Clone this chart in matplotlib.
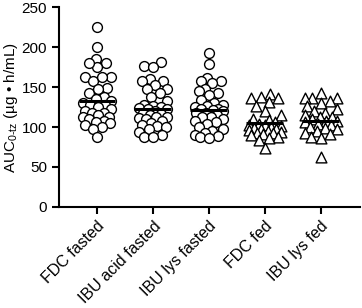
import numpy as np
import matplotlib.pyplot as plt

groups = ['FDC fasted', 'IBU acid fasted', 'IBU lys fasted', 'FDC fed', 'IBU lys fed']

fdc_fasted = [225, 200, 185, 180, 175, 180, 162, 158, 162, 162, 149, 143, 148, 138, 135,
              133, 130, 128, 127, 125, 122, 120, 118, 118, 115, 113, 112, 110, 108, 106,
              105, 103, 100, 97, 87]
ibu_acid_fasted = [181, 176, 175, 160, 158, 157, 152, 148, 147, 142, 137, 132, 128, 126,
                   125, 124, 123, 122, 120, 118, 116, 115, 113, 112, 111, 110, 108, 105,
                   103, 101, 100, 97, 94, 90, 88, 87]
ibu_lys_fasted = [193, 179, 161, 158, 157, 155, 147, 145, 143, 140, 134, 130, 128, 126,
                  125, 123, 122, 121, 120, 118, 117, 115, 113, 112, 110, 108, 106, 104,
                  100, 98, 95, 92, 90, 89, 88, 86]
fdc_fed = [141, 138, 136, 136, 131, 126, 120, 115, 110, 109, 106, 104, 103, 102, 101,
           100, 99, 98, 97, 96, 95, 94, 93, 92, 91, 90, 88, 86, 84, 74]
ibu_lys_fed = [142, 136, 136, 136, 132, 130, 126, 122, 120, 118, 115, 113, 112, 110, 108,
               107, 106, 104, 102, 100, 99, 97, 95, 93, 91, 88, 86, 62]

all_data = [fdc_fasted, ibu_acid_fasted, ibu_lys_fasted, fdc_fed, ibu_lys_fed]
centers = [132.5, 122.5, 121, 105, 108]
markers = ['o', 'o', 'o', '^', '^']

plt.rcParams['font.family'] = ['Liberation Sans', 'DejaVu Sans']
plt.rcParams['mathtext.fontset'] = 'custom'
plt.rcParams['mathtext.rm'] = 'Liberation Sans'
plt.rcParams['mathtext.it'] = 'Liberation Sans:italic'

fig = plt.figure(figsize=(3.62, 3.08), dpi=100)
ax = fig.add_axes([0.163, 0.328, 0.831, 0.649])
ax.set_xlim(-0.68, 4.7)
ax.set_ylim(0, 250)


def swarm(vals, pos, gap, half_width):
    # prism-like scatter: spread side by side, overlap once the column is full
    vals = np.asarray(vals, dtype=float)
    pts = ax.transData.transform(np.column_stack([np.full(len(vals), pos), vals]))
    cands = np.arange(-half_width, half_width + 0.01, 0.5)
    cands = cands[np.argsort(np.abs(cands), kind='stable')]
    placed = []
    xs = np.zeros(len(vals))
    for i in np.argsort(vals):
        x0, y0 = pts[i]
        if placed:
            p = np.array(placed)
            d = np.array([np.min(np.hypot(x0 + c - p[:, 0], y0 - p[:, 1])) for c in cands])
        else:
            d = np.full(len(cands), np.inf)
        ok = np.where(d >= gap)[0]
        k = ok[0] if len(ok) else int(np.argmax(d))
        xs[i] = x0 + cands[k]
        placed.append((xs[i], y0))
    back = ax.transData.inverted().transform(np.column_stack([xs, pts[:, 1]]))
    return back[:, 0]


for i, (vals, m) in enumerate(zip(all_data, markers)):
    if m == 'o':
        xs = swarm(vals, i, 9.0, 14)
    else:
        xs = swarm(vals, i, 9.5, 16)
    ax.scatter(xs, vals, s=50 if m == 'o' else 60, marker=m, facecolors='white',
               edgecolors='black', linewidths=1.0, zorder=2)
    ax.hlines(centers[i], i - 0.33, i + 0.33, colors='black', linewidth=2.2, zorder=3)

ax.set_xticks(range(len(groups)))
ax.set_xticklabels(groups, rotation=45, ha='right', rotation_mode='anchor', fontsize=11.5)
ax.set_yticks([0, 50, 100, 150, 200, 250])
ax.tick_params(axis='y', labelsize=11, width=1.5, length=5)
ax.tick_params(axis='x', width=1.5, length=5)
ax.set_ylabel(r'AUC$_{\mathrm{0\text{-}tz}}$ (µg • h/mL)', fontsize=11, labelpad=1)
for s in ['top', 'right']:
    ax.spines[s].set_visible(False)
for s in ['left', 'bottom']:
    ax.spines[s].set_linewidth(1.5)

fig.savefig('out.png', dpi=100)
